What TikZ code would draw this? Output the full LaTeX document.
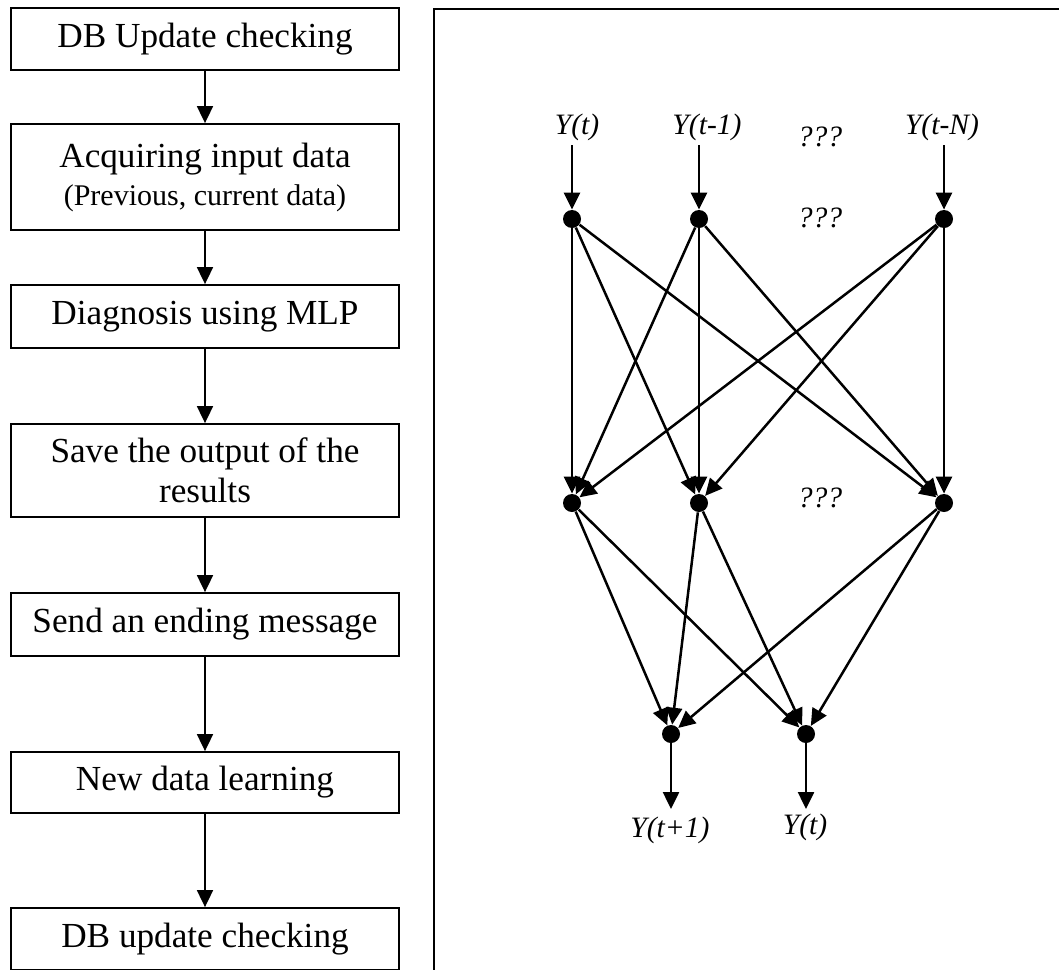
\documentclass[tikz,border=0pt]{standalone}
\usepackage{fontspec}
\setmainfont{Liberation Serif}
\usetikzlibrary{arrows.meta}
\begin{document}
\begin{tikzpicture}[x=0.5pt,y=-0.5pt,
  flowbox/.style={draw, line width=0.9pt, minimum width=194pt, inner sep=0pt,
    align=center, font=\fontsize{17.6}{20}\selectfont},
  flowarrow/.style={-{Triangle[length=8.5pt,width=8pt]}, line width=0.9pt},
  neuron/.style={circle, fill, inner sep=0pt, minimum size=9pt},
  netarrow/.style={-{Triangle[length=8.5pt,width=8pt]}, line width=1.25pt},
  sig/.style={font=\fontsize{14.8}{16}\selectfont\itshape, inner sep=0pt}]
\useasboundingbox (0,0) rectangle (1059,969);
\clip (0,0) rectangle (1059,969);

% ---- flowchart ----
\node[flowbox, minimum height=31pt]   (b1) at (205,39)    {DB Update checking};
\node[flowbox, minimum height=53pt]   (b2) at (205,177)   {Acquiring input data\\[-1pt]{\fontsize{15}{18}\selectfont (Previous, current data)}};
\node[flowbox, minimum height=31.5pt] (b3) at (205,316.5) {Diagnosis using MLP};
\node[flowbox, minimum height=46.5pt] (b4) at (205,470.5) {Save the output of the\\results};
\node[flowbox, minimum height=31.5pt] (b5) at (205,624.5) {Send an ending message};
\node[flowbox, minimum height=30.5pt] (b6) at (205,782.5) {New data learning};
\node[flowbox, minimum height=31pt]   (b7) at (205,939)   {DB update checking};
\foreach \a/\b in {b1/b2,b2/b3,b3/b4,b4/b5,b5/b6,b6/b7}
  \draw[flowarrow] (\a) -- (\b);

% ---- network panel frame ----
\draw[line width=1.1pt] (1070,9) -- (434,9) -- (434,990);

% input signals
\node[sig] (l1) at (577,127) {Y(t)};
\node[sig] (l2) at (707,127) {Y(t-1)};
\node[sig] (l3) at (942,127) {Y(t-N)};
\node[sig] (q1) at (820,137) {???};
\node[sig] (q2) at (820,218) {???};
\node[sig] (q3) at (820,498) {???};

% neurons
\node[neuron] (i1) at (572,219) {};
\node[neuron] (i2) at (699,219) {};
\node[neuron] (i3) at (944,219) {};
\node[neuron] (h1) at (572,503) {};
\node[neuron] (h2) at (699,503) {};
\node[neuron] (h3) at (944,503) {};
\node[neuron] (o1) at (671,734) {};
\node[neuron] (o2) at (806,734) {};

\coordinate (s1) at (572,145);
\coordinate (s2) at (699,145);
\coordinate (s3) at (944,145);
\coordinate (e1) at (671,809);
\coordinate (e2) at (806,809);

\draw[netarrow] (s1) -- (i1);
\draw[netarrow] (s2) -- (i2);
\draw[netarrow] (s3) -- (i3);
\foreach \i in {i1,i2,i3}
  \foreach \h in {h1,h2,h3}
    \draw[netarrow] (\i) -- (\h);
\foreach \h in {h1,h2,h3}
  \foreach \o in {o1,o2}
    \draw[netarrow] (\h) -- (\o);
\draw[netarrow] (o1) -- (e1);
\draw[netarrow] (o2) -- (e2);

% outputs
\node[sig] (y1) at (670,830) {Y(t+1)};
\node[sig] (y2) at (805,827) {Y(t)};
\end{tikzpicture}
\end{document}
